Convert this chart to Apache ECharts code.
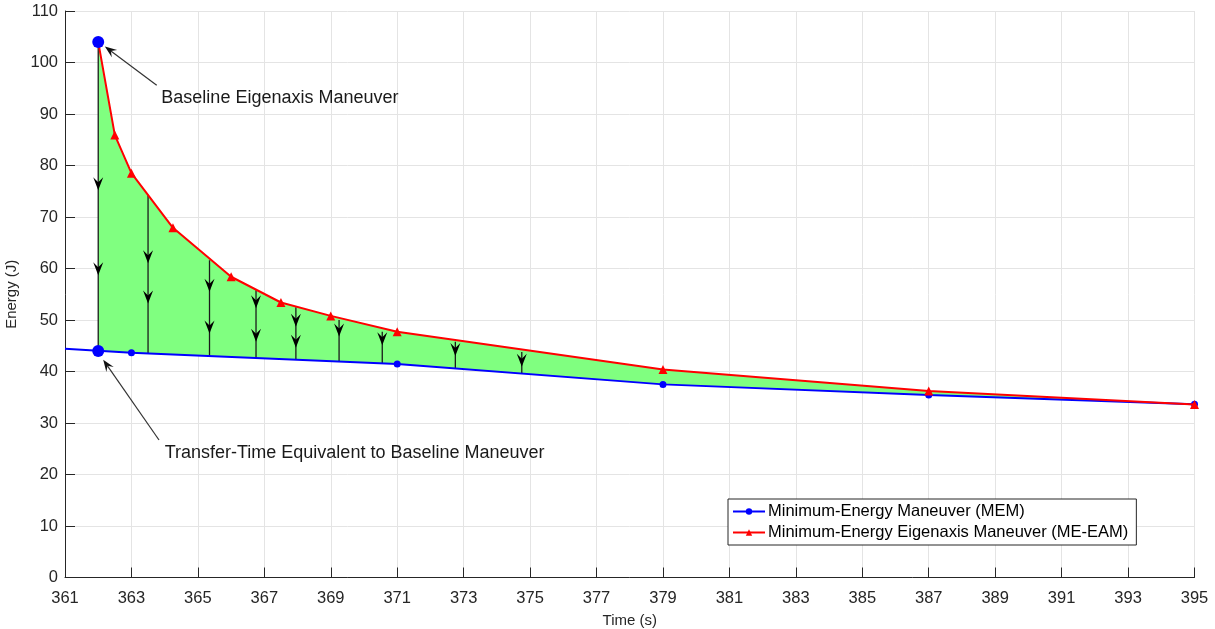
<!DOCTYPE html>
<html>
<head>
<meta charset="utf-8">
<script src="https://cdn.jsdelivr.net/npm/echarts@6/dist/echarts.min.js"></script>
<style>
  html, body { margin: 0; padding: 0; background: #fff; }
  #chart { width: 1215px; height: 629px; }
</style>
</head>
<body>
<div id="chart"></div>
<script>
// Minimum-energy maneuver (MEM)
const memTime = [361, 363, 371, 379, 387, 395];
const memEnergy = [44.4, 43.65, 41.45, 37.5, 35.45, 33.65];

// Minimum-energy eigenaxis maneuver (ME-EAM)
const eamTime = [362, 362.5, 363, 364.25, 366, 367.5, 369, 371, 379, 387, 395];
const eamEnergy = [104, 85.9, 78.5, 67.9, 58.4, 53.4, 50.8, 47.7, 40.4, 36.2, 33.6];

// Baseline eigenaxis maneuver and its transfer-time equivalent
const baselineTime = [362, 362];
const baselineEnergy = [104, 44.0];

// Energy-reduction arrows: from the ME-EAM curve down to the MEM curve
const flowTime = [362, 363.5, 365.35, 366.75, 367.95, 369.25, 370.55, 372.75, 374.75];
const flowTop = [104, 74.3, 61.6, 55.8, 52.5, 50.0, 47.7, 45.8, 43.8];
const flowBottom = [44.0, 43.5, 43.0, 42.6, 42.3, 41.9, 41.6, 40.6, 39.6];
const flowHeadA = [75.2, 61.0, 55.5, 52.3, 48.7, 46.8, 45.1, 43.0, 40.9];
const flowHeadB = [58.7, 53.2, 47.4, 45.8, 44.6, null, null, null, null];

// Text annotations with pointer arrows
const noteText = ['Baseline Eigenaxis Maneuver', 'Transfer-Time Equivalent to Baseline Maneuver'];
const noteTime = [363.9, 364.0];
const noteEnergy = [93.1, 24.2];
const noteTailTime = [363.76, 363.83];
const noteTailEnergy = [95.6, 26.7];
const noteTipTime = [362.2, 362.15];
const noteTipEnergy = [103.1, 42.3];

const xTicks = { min: 361, max: 395, step: 2 };
const yTicks = { min: 0, max: 110, step: 10 };

const MEM_NAME = 'Minimum-Energy Maneuver (MEM)';
const EAM_NAME = 'Minimum-Energy Eigenaxis Maneuver (ME-EAM)';
const FONT = '"Liberation Sans", Arial, Helvetica, sans-serif';
const AXIS_COLOR = '#262626';
const GRID_COLOR = '#e4e4e4';

function pairs(xs, ys) { return xs.map((x, i) => [x, ys[i]]); }

// Downward notched arrowhead with its tip at (px, py)
function headDown(px, py) {
  return {
    type: 'polygon',
    shape: { points: [[px, py], [px - 5, py - 13], [px, py - 8], [px + 5, py - 13]] },
    style: { fill: '#000' }
  };
}

const chart = echarts.init(document.getElementById('chart'), null, { renderer: 'canvas' });

const option = {
  animation: false,
  backgroundColor: '#fff',
  textStyle: { fontFamily: FONT },
  grid: { left: 65, right: 20.5, top: 11, bottom: 51.5, containLabel: false, outerBoundsMode: 'none' },
  legend: {
    data: [MEM_NAME, EAM_NAME],
    orient: 'vertical',
    left: 728,
    top: 499,
    itemWidth: 32,
    itemHeight: 8,
    itemGap: 4,
    padding: [4, 8, 4, 4],
    backgroundColor: '#fff',
    borderColor: AXIS_COLOR,
    borderWidth: 1,
    borderRadius: 0,
    textStyle: { fontSize: 16.5, color: '#000', fontFamily: FONT, padding: [0, 0, 0, -2] }
  },
  xAxis: {
    type: 'value',
    min: xTicks.min,
    max: xTicks.max,
    interval: xTicks.step,
    name: 'Time (s)',
    nameLocation: 'middle',
    nameGap: 36,
    nameTextStyle: { fontSize: 15, color: AXIS_COLOR, fontFamily: FONT },
    axisLine: { show: true, onZero: false, lineStyle: { color: AXIS_COLOR, width: 1 } },
    axisTick: { show: true, inside: true, length: 10, lineStyle: { color: AXIS_COLOR } },
    axisLabel: { fontSize: 16.5, color: AXIS_COLOR, margin: 12, fontFamily: FONT },
    splitLine: { show: true, lineStyle: { color: GRID_COLOR, width: 1 } }
  },
  yAxis: {
    type: 'value',
    min: yTicks.min,
    max: yTicks.max,
    interval: yTicks.step,
    name: 'Energy (J)',
    nameLocation: 'middle',
    nameGap: 40,
    nameTextStyle: { fontSize: 15, color: AXIS_COLOR, fontFamily: FONT },
    axisLine: { show: true, onZero: false, lineStyle: { color: AXIS_COLOR, width: 1 } },
    axisTick: { show: true, inside: true, length: 10, lineStyle: { color: AXIS_COLOR } },
    axisLabel: { fontSize: 16.5, color: AXIS_COLOR, margin: 7, fontFamily: FONT },
    splitLine: { show: true, lineStyle: { color: GRID_COLOR, width: 1 } }
  },
  series: [
    {
      // Green region between the two curves
      type: 'custom',
      name: 'gap',
      silent: true,
      data: [[eamTime[0], eamEnergy[0]]],
      renderItem: function (params, api) {
        const pts = [];
        eamTime.forEach((t, i) => pts.push(api.coord([t, eamEnergy[i]])));
        pts.push(api.coord([memTime[memTime.length - 1], memEnergy[memEnergy.length - 1]]));
        for (let i = memTime.length - 1; i >= 0; i--) {
          if (memTime[i] > eamTime[0]) pts.push(api.coord([memTime[i], memEnergy[i]]));
        }
        pts.push(api.coord([baselineTime[1], baselineEnergy[1]]));
        return {
          type: 'polygon',
          shape: { points: pts },
          style: { fill: '#80ff80', stroke: null }
        };
      },
      z: 1
    },
    {
      // Vertical energy-reduction arrows
      type: 'custom',
      name: 'flow',
      silent: true,
      data: flowTime.map((t, i) => [t, flowTop[i]]),
      renderItem: function (params, api) {
        const i = params.dataIndex;
        const top = api.coord([flowTime[i], flowTop[i]]);
        const bot = api.coord([flowTime[i], flowBottom[i]]);
        const children = [{
          type: 'line',
          shape: { x1: top[0], y1: top[1], x2: bot[0], y2: bot[1] },
          style: { stroke: '#1a1a1a', lineWidth: 1.3 }
        }];
        [flowHeadA[i], flowHeadB[i]].forEach(h => {
          if (h !== null) {
            const p = api.coord([flowTime[i], h]);
            children.push(headDown(p[0], p[1]));
          }
        });
        return { type: 'group', children: children };
      },
      z: 2
    },
    {
      name: MEM_NAME,
      type: 'line',
      data: pairs(memTime, memEnergy),
      symbol: function (val, params) { return params.dataIndex === 0 ? 'none' : 'circle'; },
      symbolSize: 7,
      showAllSymbol: true,
      lineStyle: { color: '#0000ff', width: 2 },
      itemStyle: { color: '#0000ff' },
      z: 3
    },
    {
      name: EAM_NAME,
      type: 'line',
      data: pairs(eamTime, eamEnergy),
      symbol: 'triangle',
      symbolSize: 9,
      showAllSymbol: true,
      lineStyle: { color: '#ff0000', width: 2 },
      itemStyle: { color: '#ff0000' },
      z: 4
    },
    {
      name: 'Baseline',
      type: 'scatter',
      data: pairs(baselineTime, baselineEnergy),
      symbol: 'circle',
      symbolSize: 12,
      itemStyle: { color: '#0000ff', opacity: 1 },
      z: 5
    },
    {
      // Annotation text and pointer arrows
      type: 'custom',
      name: 'notes',
      silent: true,
      data: noteTime.map((t, i) => [t, noteEnergy[i]]),
      renderItem: function (params, api) {
        const i = params.dataIndex;
        const tail = api.coord([noteTailTime[i], noteTailEnergy[i]]);
        const tip = api.coord([noteTipTime[i], noteTipEnergy[i]]);
        const pos = api.coord([noteTime[i], noteEnergy[i]]);
        const dx = tip[0] - tail[0], dy = tip[1] - tail[1];
        const len = Math.sqrt(dx * dx + dy * dy);
        const ux = dx / len, uy = dy / len;
        const nx = -uy, ny = ux;
        const hl = 12, hw = 4.5, notch = 7.5;
        return {
          type: 'group',
          children: [
            {
              type: 'line',
              shape: { x1: tail[0], y1: tail[1], x2: tip[0] - ux * notch, y2: tip[1] - uy * notch },
              style: { stroke: '#333', lineWidth: 1.2 }
            },
            {
              type: 'polygon',
              shape: {
                points: [
                  [tip[0], tip[1]],
                  [tip[0] - ux * hl + nx * hw, tip[1] - uy * hl + ny * hw],
                  [tip[0] - ux * notch, tip[1] - uy * notch],
                  [tip[0] - ux * hl - nx * hw, tip[1] - uy * hl - ny * hw]
                ]
              },
              style: { fill: '#111' }
            },
            {
              type: 'text',
              style: {
                text: noteText[i],
                x: pos[0],
                y: pos[1],
                fill: '#1a1a1a',
                font: '18px ' + FONT,
                align: 'left',
                verticalAlign: 'middle'
              }
            }
          ]
        };
      },
      z: 6
    }
  ]
};

chart.setOption(option);
</script>
</body>
</html>
